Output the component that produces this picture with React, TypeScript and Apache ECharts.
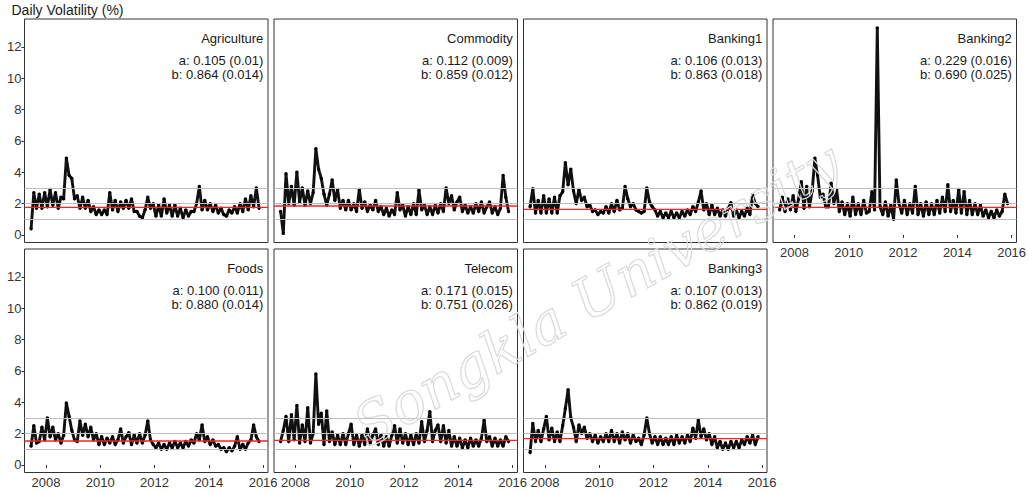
import React, { useEffect, useRef } from "react";
import * as echarts from "echarts";

// ---------- data ----------
const panelNames = ["Agriculture", "Commodity", "Banking1", "Banking2", "Foods", "Telecom", "Banking3"];
const paramA = ["a: 0.105 (0.01)", "a: 0.112 (0.009)", "a: 0.106 (0.013)", "a: 0.229 (0.016)", "a: 0.100 (0.011)", "a: 0.171 (0.015)", "a: 0.107 (0.013)"];
const paramB = ["b: 0.864 (0.014)", "b: 0.859 (0.012)", "b: 0.863 (0.018)", "b: 0.690 (0.025)", "b: 0.880 (0.014)", "b: 0.751 (0.026)", "b: 0.862 (0.019)"];
const meanLevels = [1.76, 1.85, 1.63, 1.76, 1.53, 1.57, 1.68];
const refLevels = [1, 2, 3];
const xTicks = [2008, 2010, 2012, 2014, 2016];
const yTicks = [0, 2, 4, 6, 8, 10, 12];
const startYear = 2007.45;
const stepYear = 0.1;

const agriculture = [
  0.4, 2.7, 1.7, 2.6, 1.7, 2.7, 1.8, 2.9, 1.9, 2.7,
  1.7, 2.4, 2.3, 4.9, 3.8, 3.6, 2.3, 2.5, 1.7, 2.4,
  1.7, 2.2, 1.5, 1.8, 1.3, 1.6, 1.3, 1.6, 1.3, 2.7,
  1.6, 2.2, 1.5, 2.1, 1.7, 2.2, 1.7, 2.3, 1.5, 1.5,
  1.2, 1.1, 1.6, 2.4, 1.7, 2.0, 1.2, 1.9, 1.2, 2.3,
  1.4, 1.9, 1.2, 1.9, 1.2, 1.7, 1.1, 1.6, 1.2, 1.5,
  1.5, 2.0, 3.1, 1.6, 2.2, 1.6, 2.0, 1.5, 1.9, 1.4,
  1.7, 1.3, 1.2, 1.6, 1.4, 1.8, 1.4, 2.0, 1.5, 2.3,
  1.6, 2.5, 1.8, 3.0, 1.7,
];
const commodity = [
  1.5, 0.1, 3.9, 2.0, 3.1, 1.9, 4.0, 2.1, 3.0, 1.9,
  2.8, 2.0, 2.7, 5.5, 4.2, 3.6, 2.6, 1.9, 2.6, 3.5,
  2.2, 2.9, 1.7, 2.2, 1.6, 2.2, 1.6, 2.0, 1.5, 2.9,
  1.7, 2.1, 1.5, 1.9, 1.6, 2.2, 1.5, 1.8, 1.3, 1.7,
  1.2, 1.6, 1.3, 2.7, 1.6, 1.9, 1.2, 1.8, 1.3, 2.0,
  1.3, 2.85, 1.6, 1.9, 1.3, 1.8, 1.3, 1.9, 1.4, 2.0,
  1.5, 3.0, 2.0, 2.5, 1.6, 2.1, 2.4, 1.5, 1.9, 1.4,
  1.8, 1.4, 2.0, 1.5, 2.1, 1.4, 1.8, 2.1, 1.4, 1.8,
  1.3, 1.7, 3.8, 2.4, 1.5,
];
const banking1 = [
  1.8, 2.95, 1.4, 2.2, 1.4, 2.5, 1.4, 2.3, 1.4, 2.4,
  1.4, 2.5, 2.75, 4.6, 3.2, 4.2, 2.8, 2.0, 2.9, 2.2,
  2.4, 1.8, 1.9, 1.5, 1.6, 1.3, 1.5, 1.4, 1.8, 1.4,
  2.0, 1.5, 2.2, 1.6, 1.7, 3.1, 2.3, 1.8, 2.0, 1.6,
  1.5, 1.4, 1.5, 3.0, 2.1, 1.8, 1.6, 1.2, 1.5, 1.1,
  1.4, 1.1, 1.5, 1.1, 1.4, 1.1, 1.5, 1.2, 1.6, 1.3,
  1.8, 1.5, 2.1, 2.8, 1.6, 2.0, 1.3, 1.9, 1.3, 1.7,
  1.2, 1.6, 1.2, 1.7, 2.05, 1.2, 1.6, 1.1, 1.5, 1.2,
  1.7, 1.3, 2.55, 2.0, 1.8,
];
const banking2 = [
  1.6, 2.4, 1.5, 2.3, 1.6, 2.5, 1.5, 2.3, 3.4, 1.7,
  3.1, 1.8, 2.8, 4.9, 3.8, 2.4, 2.6, 1.8, 1.8, 3.3,
  2.0, 2.9, 1.5, 2.1, 1.3, 2.0, 1.2, 2.4, 1.3, 2.0,
  1.3, 2.2, 1.4, 1.5, 2.75, 1.6, 13.2, 1.8, 1.3, 2.1,
  1.2, 1.9, 1.0, 3.5, 2.0, 1.4, 2.2, 1.3, 2.0, 1.4,
  3.1, 1.3, 2.0, 1.2, 2.1, 1.3, 2.0, 1.3, 2.2, 1.4,
  2.4, 1.5, 3.2, 1.5, 2.2, 1.4, 2.9, 1.4, 2.75, 1.3,
  2.2, 1.3, 2.0, 1.3, 1.9, 1.2, 1.6, 1.1, 1.5, 1.1,
  1.6, 1.2, 1.5, 2.6, 2.0,
];
const foods = [
  1.2, 2.5, 1.4, 1.5, 2.4, 1.6, 3.0, 1.8, 2.4, 1.6,
  2.0, 1.4, 1.9, 3.95, 3.1, 2.2, 1.6, 1.5, 2.8, 1.9,
  2.6, 1.8, 2.4, 1.6, 2.0, 1.3, 1.8, 1.3, 1.7, 1.4,
  1.8, 1.3, 1.6, 2.3, 1.4, 1.8, 2.05, 1.3, 1.9, 1.4,
  2.0, 1.4, 1.9, 2.8, 1.6, 1.3, 1.1, 1.4, 1.0, 1.3,
  1.0, 1.4, 1.1, 1.5, 1.1, 1.4, 1.1, 1.5, 1.2, 1.6,
  1.4, 2.0, 1.6, 2.55, 1.5, 1.8, 1.3, 1.6, 1.2, 1.3,
  1.0, 1.1, 0.85, 1.1, 0.9, 1.2, 1.8, 1.0, 1.3, 1.0,
  1.4, 1.6, 2.55, 1.8, 1.5,
];
const telecom = [
  1.5, 2.2, 3.1, 1.5, 3.2, 1.6, 3.8, 1.4, 2.55, 1.5,
  3.65, 1.4, 2.0, 5.8, 2.6, 3.3, 1.3, 3.45, 1.5, 2.1,
  1.3, 1.9, 1.3, 2.0, 1.3, 2.0, 2.6, 1.3, 1.9, 1.2,
  1.9, 1.3, 2.3, 1.4, 1.9, 2.3, 1.3, 1.9, 1.2, 1.8,
  1.2, 1.9, 2.5, 1.4, 2.3, 1.4, 2.0, 1.3, 1.9, 1.3,
  2.0, 1.4, 2.75, 1.5, 2.2, 3.4, 1.5, 2.2, 2.55, 1.5,
  2.5, 1.4, 2.2, 1.2, 1.8, 1.2, 1.7, 1.1, 1.6, 1.1,
  1.7, 1.2, 1.6, 1.2, 1.7, 2.85, 1.5, 1.8, 1.2, 1.7,
  1.2, 1.6, 1.2, 1.8, 1.5,
];
const banking3 = [
  0.8, 2.65, 1.5, 2.2, 1.5, 2.3, 3.1, 1.6, 2.35, 1.5,
  2.1, 1.5, 2.5, 3.6, 4.8, 3.0, 2.4, 1.5, 2.55, 2.0,
  2.4, 1.7, 2.0, 1.5, 1.9, 1.4, 1.8, 1.5, 2.0, 1.5,
  2.2, 1.5, 2.0, 1.4, 2.1, 1.6, 2.0, 1.4, 1.9, 1.5,
  1.7, 1.3, 1.9, 3.0, 2.0, 1.4, 1.8, 1.3, 1.8, 1.3,
  1.7, 1.3, 1.8, 1.3, 1.9, 1.4, 1.8, 1.4, 1.9, 1.5,
  2.35, 1.7, 2.85, 1.8, 2.3, 1.6, 2.0, 1.3, 1.8, 1.1,
  1.5, 1.0, 1.4, 1.0, 1.5, 1.1, 1.5, 1.1, 1.6, 1.3,
  1.8, 1.4, 1.9, 1.3, 1.8,
];
const panelValues = [agriculture, commodity, banking1, banking2, foods, telecom, banking3];

// ---------- layout ----------
const FONT = "'Liberation Sans', Arial, Helvetica, sans-serif";
const X_MIN = 2007.207;
const X_MAX = 2016.18;
const Y_MIN = -0.48;
const Y_MAX = 13.77;
const PANEL_W = 243.5;
const PANEL_H = 223.5;
const COL_LEFT = [24.5, 274, 523.5, 773];
const ROW_TOP = [19, 249];

function panelPos(i: number) {
  const row = i < 4 ? 0 : 1;
  const col = i < 4 ? i : i - 4;
  return { left: COL_LEFT[col], top: ROW_TOP[row] };
}

export default function App() {
  const ref = useRef<HTMLDivElement>(null);
  useEffect(() => {
    document.body.style.margin = "0";
    if (!ref.current) return;
    const chart = echarts.init(ref.current, null, { renderer: "svg" });

    const grids: any[] = [];
    const xAxes: any[] = [];
    const yAxes: any[] = [];
    const series: any[] = [];
    const graphics: any[] = [];

    panelValues.forEach((vals, i) => {
      const { left, top } = panelPos(i);
      const hasX = i >= 3;
      const hasY = i === 0 || i === 4;
      grids.push({
        left, top, width: PANEL_W, height: PANEL_H,
        show: true, borderColor: "#333", borderWidth: 1,
        backgroundColor: "transparent", containLabel: false, outerBoundsMode: "none",
      });
      xAxes.push({
        type: "value", gridIndex: i, min: X_MIN, max: X_MAX,
        splitLine: { show: false }, axisLine: { show: false },
        axisTick: { show: hasX, length: 3, lineStyle: { color: "#333" }, customValues: xTicks },
        axisLabel: {
          show: hasX, customValues: xTicks, fontSize: 13, color: "#333", margin: 3, fontFamily: FONT,
          formatter: (v: number) => String(Math.round(v)),
        },
      });
      yAxes.push({
        type: "value", gridIndex: i, min: Y_MIN, max: Y_MAX,
        splitLine: { show: false }, axisLine: { show: false },
        axisTick: { show: hasY, length: 3, lineStyle: { color: "#333" }, customValues: yTicks },
        axisLabel: {
          show: hasY, customValues: yTicks, fontSize: 13, color: "#333", margin: 3, fontFamily: FONT,
          formatter: (v: number) => String(Math.round(v)),
        },
      });
      // gray reference lines (under data)
      series.push({
        type: "line", xAxisIndex: i, yAxisIndex: i, data: [], z: 1, silent: true,
        markLine: {
          silent: true, symbol: "none", label: { show: false },
          lineStyle: { color: "#BEBEBE", width: 1.2, type: "solid" },
          data: refLevels.map((v) => ({ yAxis: v })),
        },
      });
      // data
      series.push({
        type: "line", xAxisIndex: i, yAxisIndex: i, z: 2, silent: true,
        data: vals.map((v, k) => [+(startYear + k * stepYear).toFixed(2), v]),
        symbol: "circle", symbolSize: 3.4, showSymbol: true,
        itemStyle: { color: "#000" },
        lineStyle: { color: "#111", width: 2.9 },
      });
      // red mean line across the panel
      series.push({
        type: "line", xAxisIndex: i, yAxisIndex: i, z: 3, silent: true,
        data: [[X_MIN, meanLevels[i]], [X_MAX, meanLevels[i]]],
        symbol: "none", showSymbol: false,
        lineStyle: { color: "#FF2020", width: 1.4 },
      });
      const rx = left + PANEL_W - 4.7;
      const texts = [panelNames[i], paramA[i], paramB[i]];
      const offs = [19.5, 41, 55.5];
      texts.forEach((t, j) => {
        graphics.push({
          type: "text", x: rx, y: top + offs[j], silent: true, z: 10,
          style: { text: t, fill: "#1a1a1a", font: `13px ${FONT}`, textAlign: "right", textVerticalAlign: "middle" },
        });
      });
    });

    graphics.push({
      type: "text", x: 11.5, y: 10, silent: true, z: 10,
      style: { text: "Daily Volatility (%)", fill: "#1a1a1a", font: `14px ${FONT}`, textAlign: "left", textVerticalAlign: "middle" },
    });
    // watermark
    graphics.push({
      type: "text", x: 850, y: 182, rotation: 0.52, silent: true, z: 100,
      style: {
        text: "Songkla University", fill: "rgba(255,255,255,0)", stroke: "#dadada", lineWidth: 1.2,
        font: "italic 57px 'DejaVu Serif'", textAlign: "right", textVerticalAlign: "bottom",
      },
    });

    chart.setOption({
      animation: false,
      backgroundColor: "#fff",
      grid: grids,
      xAxis: xAxes,
      yAxis: yAxes,
      series,
      graphic: graphics,
    });
    return () => chart.dispose();
  }, []);
  return <div ref={ref} style={{ width: 1029, height: 492 }} />;
}
